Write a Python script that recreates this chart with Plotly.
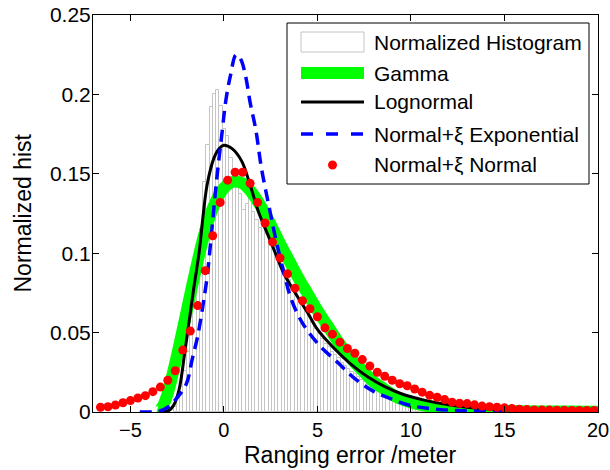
import plotly.graph_objects as go

# ---------------- data ----------------
hist_start = -2.6
hist_bin = 0.175
hist_values = [0.003, 0.008, 0.016, 0.026, 0.038, 0.052, 0.070, 0.090, 0.115, 0.145,
               0.168, 0.192, 0.200, 0.203, 0.193, 0.178, 0.174, 0.160, 0.153, 0.141,
               0.137, 0.127, 0.131, 0.135, 0.126, 0.121, 0.116, 0.118, 0.112, 0.106,
               0.102, 0.100, 0.096, 0.091, 0.087, 0.083, 0.079, 0.075, 0.071, 0.068,
               0.064, 0.060, 0.056, 0.052, 0.049, 0.046, 0.043, 0.041, 0.038, 0.036,
               0.034, 0.031, 0.029, 0.027, 0.025, 0.024, 0.022, 0.020, 0.019, 0.017,
               0.016, 0.015, 0.013, 0.012, 0.011, 0.010, 0.0095, 0.009, 0.008, 0.0075,
               0.007, 0.0065, 0.006, 0.0055, 0.005, 0.0045, 0.004, 0.0037, 0.0033, 0.003,
               0.0027, 0.0024, 0.002, 0.0018, 0.0015, 0.0013, 0.0011, 0.001]

gamma_x = [-3.6, -3.5, -3.25, -3.0, -2.5, -2.0, -1.5, -1.0, -0.5, 0.0, 0.5, 1.0, 1.5,
           2.0, 2.5, 3.0, 3.5, 4.0, 4.5, 5.0, 5.5, 6.0, 6.5, 7.0, 7.5, 8.0, 8.5, 9.0,
           9.5, 10.0, 11.0, 12.0, 13.0, 14.0, 16.0, 18.0, 20.0]
gamma_y = [0.0, 0.0, 0.004, 0.012, 0.036, 0.063, 0.090, 0.114, 0.131, 0.141, 0.145,
           0.144, 0.138, 0.129, 0.118, 0.106, 0.095, 0.084, 0.074, 0.064, 0.055, 0.046,
           0.038, 0.031, 0.025, 0.019, 0.015, 0.011, 0.008, 0.006, 0.0035, 0.002,
           0.0012, 0.0008, 0.0005, 0.0003, 0.0002]

logn_x = [-3.4, -3.0, -2.7, -2.4, -2.1, -1.85, -1.6, -1.32, -1.1, -0.9, -0.53, -0.25,
          0.0, 0.42, 0.95, 1.4, 1.85, 2.3, 2.65, 3.17, 3.6, 4.5, 5.0, 5.9, 6.8, 7.7,
          8.6, 9.6, 10.7, 12.0, 13.0, 14.0, 16.0, 18.0, 20.0]
logn_y = [0.0, 0.0005, 0.004, 0.014, 0.037, 0.058, 0.079, 0.101, 0.125, 0.143, 0.160,
          0.166, 0.168, 0.166, 0.158, 0.143, 0.126, 0.113, 0.103, 0.088, 0.079, 0.062,
          0.052, 0.040, 0.030, 0.022, 0.016, 0.011, 0.0075, 0.0045, 0.003, 0.002,
          0.001, 0.0006, 0.0004]

nexp_x = [-4.5, -4.0, -3.5, -3.0, -2.5, -2.0, -1.7, -1.4, -1.15, -0.9, -0.7, -0.4,
          -0.1, 0.1, 0.35, 0.65, 0.9, 1.15, 1.4, 1.7, 2.0, 2.4, 2.75, 3.2, 3.6, 4.2,
          5.1, 6.1, 7.0, 8.0, 9.0, 10.0, 11.0, 12.0, 13.0, 14.0, 15.0, 20.0]
nexp_y = [0.0, 0.0, 0.0003, 0.003, 0.009, 0.018, 0.033, 0.048, 0.065, 0.085, 0.108,
          0.145, 0.176, 0.196, 0.212, 0.225, 0.222, 0.212, 0.195, 0.178, 0.154, 0.130,
          0.110, 0.088, 0.071, 0.056, 0.042, 0.031, 0.021, 0.013, 0.008, 0.004,
          0.0022, 0.0012, 0.0006, 0.0003, 0.0002, 0.0]

nn_x = [-6.6, -6.2, -5.8, -5.4, -5.0, -4.6, -4.2, -3.8, -3.4, -3.0, -2.6, -2.2, -1.8,
        -1.4, -1.0, -0.6, -0.2, 0.2, 0.6, 1.0, 1.4, 1.8, 2.2, 2.6, 3.0, 3.4, 3.8, 4.2,
        4.6, 5.0, 5.4, 5.8, 6.2, 6.6, 7.0, 7.4, 7.8, 8.2, 8.6, 9.0, 9.4, 9.8, 10.2,
        10.6, 11.0, 11.4, 11.8, 12.2, 12.6, 13.0, 13.4, 13.8, 14.2, 14.6, 15.0, 15.4,
        15.8, 16.2, 16.6, 17.0, 17.4, 17.8, 18.2, 18.6, 19.0, 19.4, 19.8]
nn_y = [0.003, 0.0033, 0.0044, 0.0058, 0.0072, 0.0088, 0.0103, 0.0128, 0.0157, 0.020,
        0.026, 0.039, 0.051, 0.067, 0.089, 0.111, 0.132, 0.146, 0.151, 0.151,
        0.144, 0.132, 0.119, 0.107, 0.097, 0.087, 0.078, 0.070, 0.065, 0.060,
        0.053, 0.049, 0.044, 0.040, 0.037, 0.033, 0.029, 0.025, 0.0225, 0.020,
        0.0178, 0.0165, 0.0145, 0.0125, 0.0105, 0.0093, 0.0078, 0.0062, 0.0055, 0.0053,
        0.0045, 0.0037, 0.0033, 0.003, 0.0026, 0.0022, 0.0018, 0.0015, 0.0013, 0.0012,
        0.0012, 0.0011, 0.0011, 0.001, 0.001, 0.001, 0.001]

x_ticks = [-5, 0, 5, 10, 15, 20]
y_ticks = [0, 0.05, 0.1, 0.15, 0.2, 0.25]
y_tick_text = ["0", "0.05", "0.1", "0.15", "0.2", "0.25"]
legend_names = ["Normalized Histogram", "Gamma", "Lognormal",
                "Normal+ξ Exponential", "Normal+ξ Normal"]

hist_x = [hist_start + i * hist_bin for i in range(len(hist_values))]

FONT = "Liberation Sans, Arial, Helvetica, sans-serif"
fig = go.Figure()
fig.add_trace(go.Bar(x=hist_x, y=hist_values, width=hist_bin,
                     marker=dict(color="white", line=dict(color="#c4c4c4", width=1)),
                     showlegend=False))
fig.add_trace(go.Scatter(x=gamma_x, y=gamma_y, mode="lines", line_shape="spline",
                         line=dict(color="#00ff00", width=12), showlegend=False))
fig.add_trace(go.Scatter(x=logn_x, y=logn_y, mode="lines", line_shape="spline",
                         line=dict(color="black", width=3), showlegend=False))
fig.add_trace(go.Scatter(x=nexp_x, y=nexp_y, mode="lines", line_shape="spline",
                         line=dict(color="#0000ff", width=3.5, dash="12px,7px"),
                         showlegend=False))
fig.add_trace(go.Scatter(x=nn_x, y=nn_y, mode="markers",
                         marker=dict(color="#ff0000", size=9), showlegend=False))

# ---- custom MATLAB-like legend (paper coordinates) ----
L, R, T, B = 93.0, 598.0, 15.0, 412.0
PW, PH = R - L, B - T
def px(x):
    return (x - L) / PW
def py(y):
    return (B - y) / PH

shapes = []
shapes.append(dict(type="rect", xref="paper", yref="paper", x0=px(287), x1=px(589),
                   y0=py(184), y1=py(23), line=dict(color="black", width=1),
                   fillcolor="white", layer="above"))
row_y = [42, 73, 102, 134, 165]
sx0, sx1 = px(301), px(364)
shapes.append(dict(type="rect", xref="paper", yref="paper", x0=sx0, x1=sx1,
                   y0=py(row_y[0] + 10), y1=py(row_y[0] - 10),
                   line=dict(color="#c4c4c4", width=1), fillcolor="white", layer="above"))
shapes.append(dict(type="line", xref="paper", yref="paper", x0=sx0, x1=sx1,
                   y0=py(row_y[1]), y1=py(row_y[1]),
                   line=dict(color="#00ff00", width=12), layer="above"))
shapes.append(dict(type="line", xref="paper", yref="paper", x0=sx0, x1=sx1,
                   y0=py(row_y[2]), y1=py(row_y[2]),
                   line=dict(color="black", width=3), layer="above"))
shapes.append(dict(type="line", xref="paper", yref="paper", x0=sx0, x1=sx1,
                   y0=py(row_y[3]), y1=py(row_y[3]),
                   line=dict(color="#0000ff", width=3.5, dash="12px,13px"), layer="above"))
shapes.append(dict(type="circle", xref="paper", yref="paper",
                   x0=px(328), x1=px(337), y0=py(row_y[4] + 4.5), y1=py(row_y[4] - 4.5),
                   line=dict(color="#ff0000", width=0), fillcolor="#ff0000", layer="above"))

annotations = []
for name, ry in zip(legend_names, row_y):
    annotations.append(dict(text=name, xref="paper", yref="paper", x=px(372), y=py(ry),
                            xanchor="left", yanchor="middle", showarrow=False,
                            font=dict(size=21, color="black", family=FONT)))
annotations.append(dict(text="Ranging error /meter", xref="paper", yref="paper",
                        x=px(350), y=py(455), xanchor="center", yanchor="middle",
                        showarrow=False, font=dict(size=23, color="black", family=FONT)))
annotations.append(dict(text="Normalized hist", xref="paper", yref="paper",
                        x=px(22), y=0.5, xanchor="center", yanchor="middle", textangle=-90,
                        showarrow=False, font=dict(size=23, color="black", family=FONT)))

fig.update_layout(
    width=610, height=470,
    margin=dict(l=L, r=610 - R, t=T, b=470 - B, autoexpand=False),
    paper_bgcolor="white", plot_bgcolor="white",
    bargap=0, showlegend=False,
    shapes=shapes, annotations=annotations,
    font=dict(family=FONT, size=21, color="black"),
    xaxis=dict(range=[-7, 20], tickvals=x_ticks, ticks="inside", ticklen=6,
               tickcolor="black", showline=True, linecolor="black", linewidth=1,
               mirror="ticks", showgrid=False, zeroline=False, automargin=False,
               ticklabeloverflow="allow",
               tickfont=dict(size=20, family=FONT)),
    yaxis=dict(range=[0, 0.25], tickvals=y_ticks, ticktext=y_tick_text, ticks="inside",
               ticklen=6, tickcolor="black", showline=True, linecolor="black",
               linewidth=1, mirror="ticks", showgrid=False, zeroline=False,
               automargin=False, ticklabeloverflow="allow", ticklabelstandoff=-3,
               tickfont=dict(size=21, family=FONT)),
)

fig.write_html("out.html")
